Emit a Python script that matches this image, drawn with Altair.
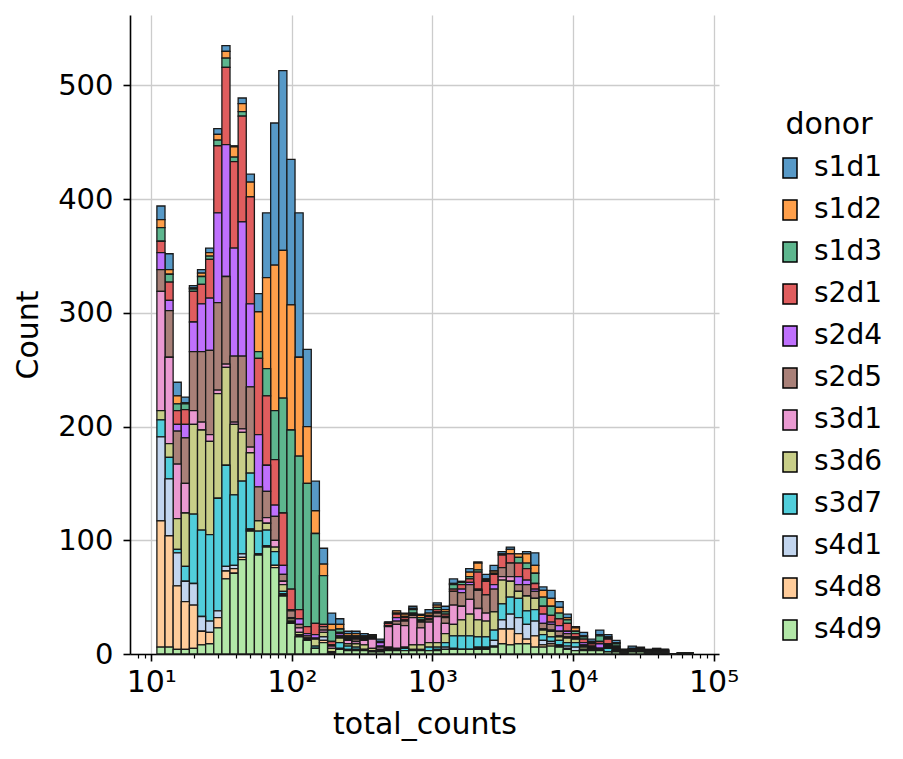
import numpy as np
import pandas as pd
import altair as alt

donors = ["s1d1", "s1d2", "s1d3", "s2d1", "s2d4", "s2d5",
          "s3d1", "s3d6", "s3d7", "s4d1", "s4d8", "s4d9"]
palette = ["#1f77b4", "#ff7f0e", "#279e68", "#d62728", "#aa40fc", "#8c564b",
           "#e377c2", "#b5bd61", "#17becf", "#aec7e8", "#ffbb78", "#98df8a"]

# bins are equal width in log10(total_counts)
log_first_edge = 1.04
log_bin_width = 0.0578

# counts per bin (66 bins), one list per donor
s1d1 = [12, 14, 12, 5, 2, 3, 4, 5, 5, 1, 5, 7, 16, 57, 125, 158, 128, 127, 68, 26,
        14, 10, 5, 2, 2, 2, 1, 2, 0, 0, 1, 2, 1, 3, 2, 3, 4, 1, 3, 1,
        4, 5, 2, 2, 0, 2, 11, 3, 7, 5, 3, 1, 3, 2, 4, 2, 2, 0, 2, 1,
        0, 1, 0, 0, 0, 0]
s1d2 = [7, 4, 7, 1, 1, 3, 3, 5, 6, 9, 7, 13, 35, 80, 128, 130, 110, 87, 50, 20,
        10, 5, 4, 2, 2, 1, 1, 1, 0, 2, 2, 1, 2, 2, 2, 2, 1, 0, 4, 6,
        1, 2, 1, 4, 3, 8, 7, 6, 7, 5, 2, 3, 1, 1, 1, 1, 1, 0, 1, 0,
        1, 1, 0, 0, 0, 0]
s1d3 = [12, 7, 6, 5, 2, 7, 3, 5, 8, 4, 4, 0, 6, 24, 43, 101, 140, 135, 126, 79,
        43, 10, 3, 1, 1, 1, 1, 0, 1, 1, 1, 3, 2, 1, 2, 2, 4, 2, 2, 2,
        1, 1, 0, 0, 5, 5, 9, 8, 8, 5, 3, 2, 2, 1, 5, 1, 2, 1, 0, 1,
        0, 0, 1, 0, 0, 0]
s2d1 = [10, 16, 12, 13, 27, 17, 34, 59, 68, 76, 93, 94, 67, 61, 40, 46, 18, 8, 6, 10,
        2, 3, 1, 1, 1, 1, 0, 0, 2, 3, 2, 1, 1, 2, 2, 2, 2, 4, 3, 15,
        12, 9, 11, 8, 12, 10, 5, 7, 6, 6, 7, 3, 3, 2, 2, 4, 1, 1, 0, 1,
        0, 1, 0, 0, 0, 0]
s2d4 = [15, 9, 6, 12, 26, 42, 46, 79, 116, 95, 118, 73, 46, 23, 10, 8, 1, 5, 2, 3,
        0, 0, 2, 1, 1, 0, 0, 3, 0, 3, 1, 1, 1, 1, 1, 1, 0, 3, 2, 1,
        0, 4, 0, 0, 7, 4, 2, 8, 2, 5, 2, 1, 2, 1, 4, 1, 1, 0, 1, 0,
        0, 0, 0, 0, 0, 0]
s2d5 = [19, 41, 29, 40, 52, 62, 74, 77, 77, 58, 64, 53, 30, 23, 21, 6, 6, 3, 2, 1,
        3, 1, 1, 1, 2, 1, 1, 1, 1, 3, 4, 2, 5, 2, 3, 5, 12, 12, 13, 16,
        16, 20, 8, 12, 6, 10, 6, 5, 5, 4, 3, 1, 1, 1, 0, 1, 1, 0, 0, 0,
        1, 0, 1, 0, 0, 0]
s3d1 = [105, 76, 48, 26, 12, 7, 6, 3, 3, 2, 3, 5, 0, 5, 6, 3, 1, 4, 0, 0,
        2, 2, 1, 3, 2, 4, 8, 2, 18, 21, 19, 24, 15, 18, 23, 9, 17, 12, 13, 10,
        7, 0, 3, 4, 0, 0, 0, 1, 1, 1, 1, 0, 1, 0, 0, 1, 0, 0, 0, 0,
        0, 0, 1, 0, 0, 0]
s3d6 = [8, 12, 27, 47, 79, 88, 82, 92, 86, 62, 43, 18, 9, 6, 4, 6, 2, 2, 1, 6,
        4, 3, 4, 2, 3, 4, 2, 0, 1, 1, 1, 4, 4, 4, 4, 8, 10, 14, 19, 15,
        14, 16, 21, 14, 6, 13, 10, 4, 5, 3, 4, 3, 2, 1, 1, 1, 1, 1, 1, 0,
        1, 1, 0, 0, 0, 0]
s3d7 = [15, 19, 3, 13, 61, 76, 76, 99, 89, 62, 64, 49, 20, 14, 12, 2, 1, 0, 0, 2,
        0, 0, 5, 3, 2, 0, 0, 1, 1, 1, 2, 1, 1, 3, 2, 4, 11, 12, 12, 9,
        9, 9, 14, 15, 17, 12, 10, 5, 4, 4, 3, 4, 0, 1, 1, 3, 1, 0, 0, 1,
        0, 0, 0, 0, 0, 0]
s4d1 = [74, 50, 29, 18, 19, 13, 10, 6, 4, 3, 3, 1, 0, 0, 0, 1, 0, 1, 1, 0,
        3, 0, 1, 1, 0, 1, 0, 1, 1, 0, 0, 0, 0, 0, 1, 2, 1, 0, 0, 1,
        1, 5, 8, 13, 14, 13, 13, 4, 2, 1, 2, 3, 1, 0, 0, 0, 0, 0, 0, 0,
        0, 0, 0, 0, 0, 0]
s4d8 = [111, 98, 56, 42, 38, 12, 10, 9, 7, 4, 2, 1, 1, 1, 2, 1, 1, 1, 0, 0,
        2, 1, 0, 0, 1, 0, 1, 0, 0, 0, 0, 0, 0, 0, 0, 0, 0, 0, 0, 1,
        1, 1, 13, 14, 9, 4, 10, 2, 2, 1, 1, 0, 0, 0, 0, 0, 0, 0, 0, 0,
        0, 0, 0, 0, 0, 0]
s4d9 = [6, 6, 4, 4, 5, 8, 9, 23, 66, 71, 83, 108, 87, 94, 76, 51, 27, 15, 12, 5,
        10, 1, 4, 3, 3, 3, 2, 2, 3, 3, 3, 3, 3, 3, 3, 4, 4, 4, 4, 4,
        4, 6, 9, 8, 9, 9, 6, 6, 7, 6, 4, 3, 3, 3, 3, 2, 2, 1, 2, 2,
        1, 1, 1, 0, 1, 1]

per_donor = [s1d1, s1d2, s1d3, s2d1, s2d4, s2d5, s3d1, s3d6, s3d7, s4d1, s4d8, s4d9]

n_bins = len(s1d1)
edges = 10 ** (log_first_edge + log_bin_width * np.arange(n_bins + 1))

rows = []
for i, (name, vals) in enumerate(zip(donors, per_donor)):
    for b, c in enumerate(vals):
        # last donor sits at the bottom of the stack, like seaborn
        rows.append({"donor": name, "lo": edges[b], "hi": edges[b + 1],
                     "count": c, "rank": len(donors) - 1 - i})
df = pd.DataFrame(rows)


def blend(hex_color, alpha=0.75):
    # seaborn draws the bars with alpha .75 on white
    rgb = [int(hex_color[k:k + 2], 16) for k in (1, 3, 5)]
    mixed = [round(alpha * v + (1 - alpha) * 255) for v in rgb]
    return "#" + "".join(f"{v:02x}" for v in mixed)


colors = [blend(c) for c in palette]

major = [10, 100, 1000, 10000, 100000]
minor = [8, 9] + [k * 10 ** e for e in range(1, 5) for k in range(2, 10)]
is_major = "indexof([10, 100, 1000, 10000, 100000], datum.value) >= 0"
label_expr = ("datum.value == 10 ? '10¹' : datum.value == 100 ? '10²' : "
              "datum.value == 1000 ? '10³' : datum.value == 10000 ? '10⁴' : "
              "datum.value == 100000 ? '10⁵' : ''")

x_axis = alt.Axis(
    title="total_counts",
    values=sorted(major + minor),
    labelExpr=label_expr,
    labelFlush=False,
    labelOverlap=False,
    labelFontSize=30,
    labelPadding=6,
    titlePadding=12,
    tickSize={"condition": {"test": is_major, "value": 7}, "value": 4},
    tickWidth={"condition": {"test": is_major, "value": 1.6}, "value": 1.2},
    gridOpacity={"condition": {"test": is_major, "value": 1}, "value": 0},
)

y_axis = alt.Axis(
    title="Count",
    values=[0, 100, 200, 300, 400, 500],
    labelFontSize=29,
    labelPadding=10,
    titlePadding=14,
    tickSize=7,
    tickWidth=1.6,
)

legend = alt.Legend(
    title="donor",
    orient="none",
    legendX=646,
    legendY=95,
    direction="vertical",
    titleFontSize=30,
    titleFontWeight="normal",
    titleAnchor="middle",
    titlePadding=14,
    labelFontSize=28,
    labelOffset=10,
    rowPadding=14,
    symbolType="M-0.7,-1H0.7V1H-0.7Z",
    symbolSize=400,
    symbolStrokeColor="black",
    symbolStrokeWidth=1.5,
    symbolOpacity=1,
    padding=0,
)

chart = alt.Chart(df).transform_stack(
    stack="count",
    groupby=["lo"],
    as_=["y0", "y1"],
    sort=[alt.SortField("rank", order="ascending")],
    offset="zero",
).mark_bar(stroke="#1a1a1a", strokeWidth=1.3, strokeOpacity=1).encode(
    x=alt.X("lo:Q", scale=alt.Scale(type="log", domain=[7.06, 109200], nice=False), axis=x_axis),
    x2="hi:Q",
    y=alt.Y("y0:Q", scale=alt.Scale(domain=[0, 562], nice=False), axis=y_axis),
    y2="y1:Q",
    color=alt.Color("donor:N", scale=alt.Scale(domain=donors, range=colors), legend=legend),
).properties(
    width=589,
    height=639,
    autosize="none",
    padding={"left": 122, "top": 7, "right": 176, "bottom": 90},
).configure(
    font="DejaVu Sans",
).configure_view(
    stroke=None,
).configure_axis(
    domainColor="black",
    domainWidth=1.6,
    tickColor="black",
    labelColor="black",
    titleColor="black",
    titleFontSize=30,
    titleFontWeight="normal",
    gridColor="#cccccc",
    gridWidth=1.3,
).configure_legend(
    labelColor="black",
    titleColor="black",
)

chart.save("out.html", embed_options={"renderer": "svg", "actions": False})
